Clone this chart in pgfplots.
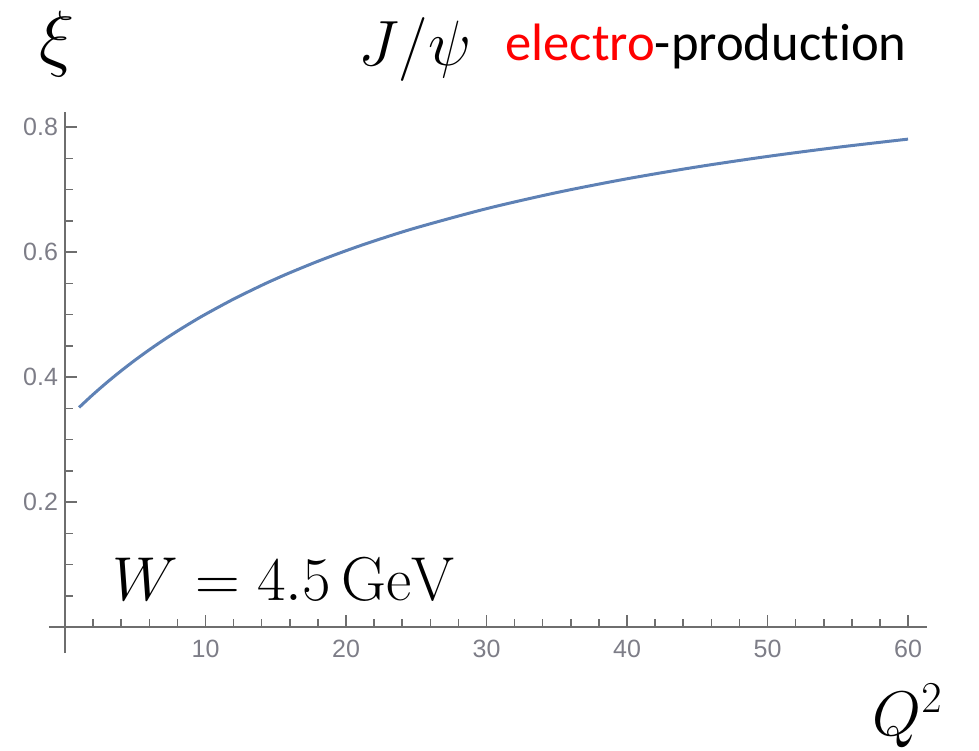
\RequirePackage{fix-cm}
\documentclass[border=0pt]{standalone}
\usepackage{fontspec}
\usepackage{pgfplots}
\pgfplotsset{compat=1.18}
\newfontfamily\calib[Ligatures={NoCommon}]{Carlito}
\newfontfamily\tickfont{Liberation Sans}
\definecolor{mmablue}{rgb}{0.368417,0.506779,0.709798}
\definecolor{axgray}{RGB}{110,110,110}
\definecolor{tkgray}{RGB}{125,125,135}
\pgfplotstableread{
q2 xi
1 0.35129
2 0.37212
3 0.39165
4 0.41000
5 0.42727
6 0.44357
7 0.45897
8 0.47353
9 0.48733
10 0.50043
12 0.52470
14 0.54673
15 0.55700
16 0.56682
18 0.58519
20 0.60207
22 0.61763
25 0.63881
30 0.66935
35 0.69512
40 0.71716
45 0.73624
50 0.75290
55 0.76758
60 0.78062
}\xidata
\begin{document}
\begin{tikzpicture}
\begin{axis}[
  x=7.025pt, y=312.5pt,
  xmin=-1.139, xmax=61.35, ymin=-0.0416, ymax=0.824,
  axis lines=middle,
  axis line style={-, draw=axgray, line width=1pt},
  every inner x axis line/.append style={-},
  every inner y axis line/.append style={-},
  enlargelimits=false,
  clip=false,
  tick align=inside,
  major tick length=6pt,
  minor tick length=3.8pt,
  tick style={draw=axgray, line width=0.75pt},
  xtick={10,20,30,40,50,60},
  minor xtick={2,4,6,8,12,14,16,18,22,24,26,28,32,34,36,38,42,44,46,48,52,54,56,58},
  ytick={0.2,0.4,0.6,0.8},
  minor ytick={0.05,0.1,0.15,0.25,0.3,0.35,0.45,0.5,0.55,0.65,0.7,0.75},
  /pgf/number format/assume math mode=true,
  /pgf/number format/fixed,
  ticklabel style={font=\fontsize{12.5}{14}\selectfont\tickfont, text=tkgray},
  xticklabel style={anchor=north, yshift=-3pt},
  yticklabel style={anchor=east},
]
\addplot[mmablue, line width=1.5pt, smooth] table[x=q2, y=xi] {\xidata};
\node[anchor=base, inner sep=0pt] at (axis cs:-0.57,0.9024) {\fontsize{37}{40}\selectfont$\xi$};
\node[anchor=base west, inner sep=0pt] at (axis cs:20.85,0.899) {\fontsize{32}{36}\selectfont$J/\psi$};
\node[anchor=base west, inner sep=0pt] at (axis cs:31.32,0.9056) {\fontsize{26.3}{30}\selectfont\calib\textcolor{red}{electro}-produc\kern0pt tion};
\node[anchor=base west, inner sep=0pt] at (axis cs:3.345,0.0432) {\fontsize{31}{36}\selectfont$W = 4.5\,\mathrm{GeV}$};
\node[anchor=base west, inner sep=0pt] at (axis cs:57.44,-0.1728) {\fontsize{31.5}{36}\selectfont$Q^2$};
\path (axis cs:-4.626,-0.1968) rectangle (axis cs:65.05,1.0032);
\end{axis}
\end{tikzpicture}
\end{document}
